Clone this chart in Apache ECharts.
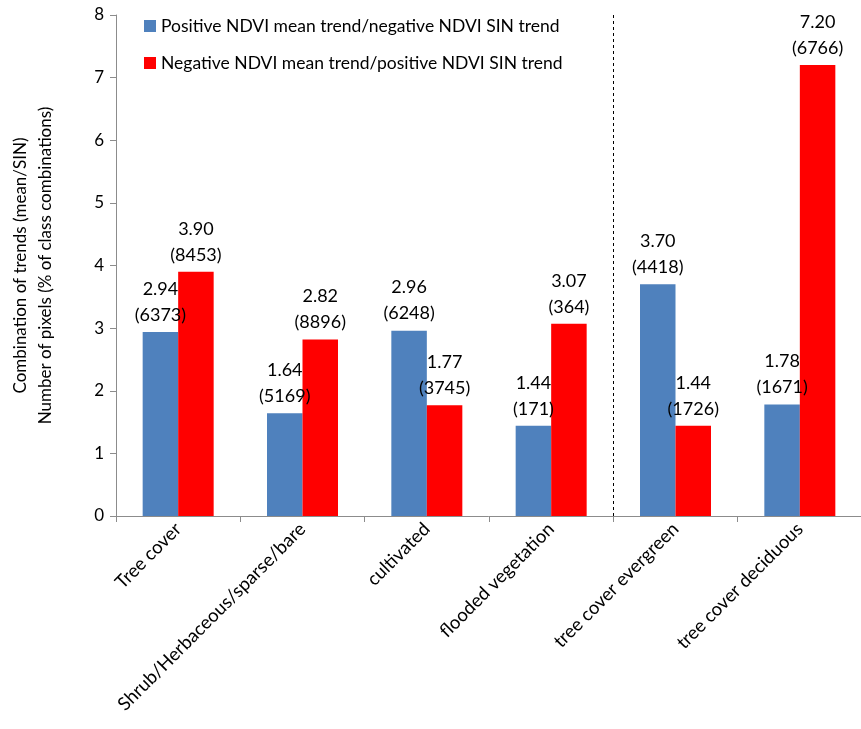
<!DOCTYPE html>
<html>
<head>
<meta charset="utf-8">
<script src="https://cdn.jsdelivr.net/npm/echarts@6/dist/echarts.min.js"></script>
<style>
  html, body { margin: 0; padding: 0; background: #fff; }
  #chart { width: 861px; height: 729px; }
</style>
</head>
<body>
<div id="chart"></div>
<script>
// Land cover classes
const categories = [
  'Tree cover',
  'Shrub/Herbaceous/sparse/bare',
  'cultivated',
  'flooded vegetation',
  'tree cover evergreen',
  'tree cover deciduous'
];
// Share of pixels (%) per trend combination
const positiveMeanNegSin = [2.94, 1.64, 2.96, 1.44, 3.70, 1.78];
const negativeMeanPosSin = [3.90, 2.82, 1.77, 3.07, 1.44, 7.20];
// Pixel counts per trend combination
const positiveMeanNegSinPixels = [6373, 5169, 6248, 171, 4418, 1671];
const negativeMeanPosSinPixels = [8453, 8896, 3745, 364, 1726, 6766];
// Value axis ticks
const yTicks = [0, 1, 2, 3, 4, 5, 6, 7, 8];
// Separator between the general classes and the tree cover subclasses (category boundary index)
const separatorAt = 4;

const FONT = 'Lato';
const axisGray = '#8c8c8c';

function withCounts(values, counts) {
  return values.map((v, i) => ({ value: v, count: counts[i] }));
}

const labelStyle = {
  show: true,
  position: 'top',
  distance: 4,
  fontFamily: FONT,
  fontSize: 18,
  lineHeight: 26,
  color: '#000',
  formatter: p => p.value.toFixed(2) + '\n(' + p.data.count + ')'
};

const chart = echarts.init(document.getElementById('chart'), null, { renderer: 'canvas' });
chart.setOption({
  animation: false,
  backgroundColor: '#fff',
  textStyle: { fontFamily: FONT },
  legend: {
    orient: 'vertical',
    left: 139,
    top: 12,
    itemWidth: 12,
    itemHeight: 12,
    itemGap: 19,
    icon: 'rect',
    data: [
      'Positive NDVI mean trend/negative NDVI SIN trend',
      'Negative NDVI mean trend/positive NDVI SIN trend'
    ],
    textStyle: { fontFamily: FONT, fontSize: 17.5, color: '#000' }
  },
  grid: { left: 116, top: 15, width: 746, height: 501, outerBoundsMode: 'none', containLabel: false },
  xAxis: [
    {
      type: 'category',
      data: categories,
      axisLine: { lineStyle: { color: axisGray, width: 1 } },
      axisTick: { show: true, alignWithLabel: false, length: 6, lineStyle: { color: axisGray } },
      axisLabel: {
        interval: 0,
        rotate: 45,
        margin: 10,
        fontFamily: FONT,
        fontSize: 18.5,
        color: '#000'
      },
      splitLine: { show: false }
    },
    {
      // hidden linear helper axis spanning the same categories, used for the separator
      type: 'value',
      min: 0,
      max: categories.length,
      show: false
    }
  ],
  yAxis: {
    type: 'value',
    min: yTicks[0],
    max: yTicks[yTicks.length - 1],
    interval: 1,
    name: 'Combination of trends (mean/SIN)\nNumber of pixels (% of class combinations)',
    nameLocation: 'middle',
    nameGap: 58,
    nameRotate: 90,
    nameTextStyle: { fontFamily: FONT, fontSize: 17, lineHeight: 25, color: '#000' },
    axisLine: { show: true, lineStyle: { color: axisGray, width: 1 } },
    axisTick: { show: true, length: 6, lineStyle: { color: axisGray } },
    axisLabel: { fontFamily: FONT, fontSize: 17, color: '#000', margin: 12 },
    splitLine: { show: false }
  },
  series: [
    {
      name: 'Positive NDVI mean trend/negative NDVI SIN trend',
      type: 'bar',
      barWidth: 35.5,
      barGap: '0%',
      itemStyle: { color: '#4F81BD' },
      label: labelStyle,
      data: withCounts(positiveMeanNegSin, positiveMeanNegSinPixels)
    },
    {
      name: 'Negative NDVI mean trend/positive NDVI SIN trend',
      type: 'bar',
      barWidth: 35.5,
      barGap: '0%',
      itemStyle: { color: '#FF0000' },
      label: labelStyle,
      data: withCounts(negativeMeanPosSin, negativeMeanPosSinPixels)
    },
    {
      name: 'separator',
      type: 'line',
      xAxisIndex: 1,
      data: [],
      silent: true,
      markLine: {
        silent: true,
        symbol: ['none', 'none'],
        label: { show: false },
        lineStyle: { color: '#000', type: [3, 3], width: 1 },
        data: [{ xAxis: separatorAt }]
      }
    }
  ]
});
</script>
</body>
</html>
